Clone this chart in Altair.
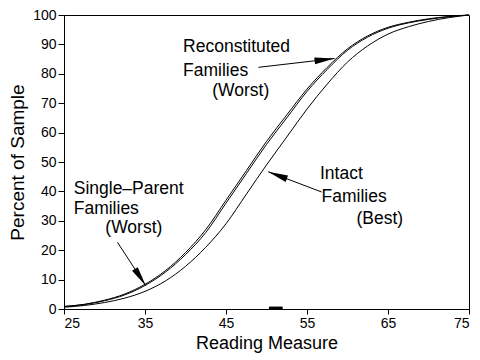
import math
import altair as alt
import pandas as pd

# ---- data ----
reading = [25, 27.5, 30, 32.5, 35, 37.5, 40, 42.5, 45, 47.5, 50, 52.5, 55,
           57.5, 60, 62.5, 65, 67.5, 70, 72.5, 75]
reconstituted = [0.9, 1.6, 3.0, 5.1, 8.4, 13.0, 19.2, 27.0, 37.0, 47.0, 57.0,
                 66.0, 74.8, 82.2, 88.5, 92.9, 95.8, 97.5, 98.7, 99.5, 100]
single_parent = [0.8, 1.5, 2.8, 4.8, 8.0, 12.5, 18.5, 26.0, 36.0, 46.0, 56.0,
                 65.0, 74.0, 81.5, 88.0, 92.5, 95.5, 97.3, 98.5, 99.4, 100]
intact = [0.6, 1.2, 2.2, 3.7, 6.0, 9.5, 14.5, 21.0, 29.0, 39.0, 49.0,
          58.5, 68.0, 76.5, 84.0, 89.5, 93.5, 96.0, 97.8, 99.1, 100]

x_ticks = [25, 35, 45, 55, 65, 75]
y_ticks = [0, 10, 20, 30, 40, 50, 60, 70, 80, 90, 100]

# annotation text: (text, x, y)
label_text = ["Reconstituted", "Families", "(Worst)",
              "Single\u2013Parent", "Families", "(Worst)",
              "Intact", "Families", "(Best)"]
label_x = [39.7, 39.7, 43.3, 26.2, 26.2, 30.1, 56.6, 56.8, 61.1]
label_y = [87.5, 79.3, 72.4, 39.1, 32.2, 25.7, 44.1, 36.5, 28.9]

# arrows: tail -> tip
arrow_x = [49.0, 56.8, 31.6]
arrow_y = [82.2, 39.8, 22.7]
arrow_x2 = [58.4, 50.2, 35.1]
arrow_y2 = [85.2, 46.7, 7.9]

# small mark on the x axis
mark_x = [50.3]
mark_x2 = [52.0]
mark_y = [0.4]

W, H = 405, 294
FONT = "Liberation Sans"

curves = pd.DataFrame({
    "x": reading * 3,
    "y": reconstituted + single_parent + intact,
    "s": ["Reconstituted"] * len(reading) + ["Single-Parent"] * len(reading)
         + ["Intact"] * len(reading),
})

xs = alt.Scale(domain=[25, 75], nice=False, zero=False)
ys = alt.Scale(domain=[0, 100], nice=False)

x_axis = alt.Axis(values=x_ticks, title="Reading Measure",
                  grid=False, tickSize=5, labelFontSize=14,
                  titleFontSize=18, titleFontWeight="normal",
                  labelPadding=2, titlePadding=4, labelFont=FONT,
                  titleFont=FONT, domainColor="black",
                  tickColor="black", labelColor="black",
                  titleColor="black", labelOverlap=False)
y_axis = alt.Axis(values=y_ticks, title="Percent of Sample",
                  grid=False, tickSize=6, labelFontSize=14,
                  titleFontSize=19, titleFontWeight="normal",
                  labelPadding=2, titlePadding=5, labelFont=FONT,
                  titleFont=FONT, domainColor="black",
                  tickColor="black", labelColor="black",
                  titleColor="black", labelOverlap=False)


def X(f):
    return alt.X(f, scale=xs, axis=x_axis, title="Reading Measure")


def Y(f):
    return alt.Y(f, scale=ys, axis=y_axis, title="Percent of Sample")


lines = alt.Chart(curves).mark_line(
    color="black", strokeWidth=1, interpolate="monotone"
).encode(x=X("x:Q"), y=Y("y:Q"), detail="s:N")

labels_df = pd.DataFrame({"t": label_text, "x": label_x, "y": label_y})
labels = alt.Chart(labels_df).mark_text(
    align="left", baseline="alphabetic", fontSize=17.5, font=FONT,
    color="black"
).encode(x=X("x:Q"), y=Y("y:Q"), text="t:N")

sx, sy = W / 50.0, H / 100.0
angles = []
for x1, y1, x2, y2 in zip(arrow_x, arrow_y, arrow_x2, arrow_y2):
    dx = (x2 - x1) * sx
    dy = -(y2 - y1) * sy
    a = math.degrees(math.atan2(dx, -dy)) % 360
    angles.append(a)

arrows_df = pd.DataFrame({"x": arrow_x, "y": arrow_y, "x2": arrow_x2,
                          "y2": arrow_y2, "a": angles})
shafts = alt.Chart(arrows_df).mark_rule(color="black", strokeWidth=1).encode(
    x=X("x:Q"), y=Y("y:Q"), x2="x2:Q", y2="y2:Q")
heads = alt.Chart(arrows_df).mark_point(
    shape="M0,0L0.34,2L-0.34,2Z", filled=True, fill="black",
    color="black", opacity=1, size=400
).encode(x=X("x2:Q"), y=Y("y2:Q"),
         angle=alt.Angle("a:Q", scale=None))

mark_df = pd.DataFrame({"x": mark_x, "x2": mark_x2, "y": mark_y})
axis_mark = alt.Chart(mark_df).mark_rule(color="black", strokeWidth=2.5).encode(
    x=X("x:Q"), x2="x2:Q", y=Y("y:Q"))

chart = alt.layer(lines, labels, shafts, heads, axis_mark).properties(
    width=W, height=H, background="white",
    padding={"left": 0, "top": 0, "right": 0, "bottom": 2},
).configure_view(stroke="black", strokeWidth=1)

chart.save("out.html", embed_options={"renderer": "svg", "actions": False})
